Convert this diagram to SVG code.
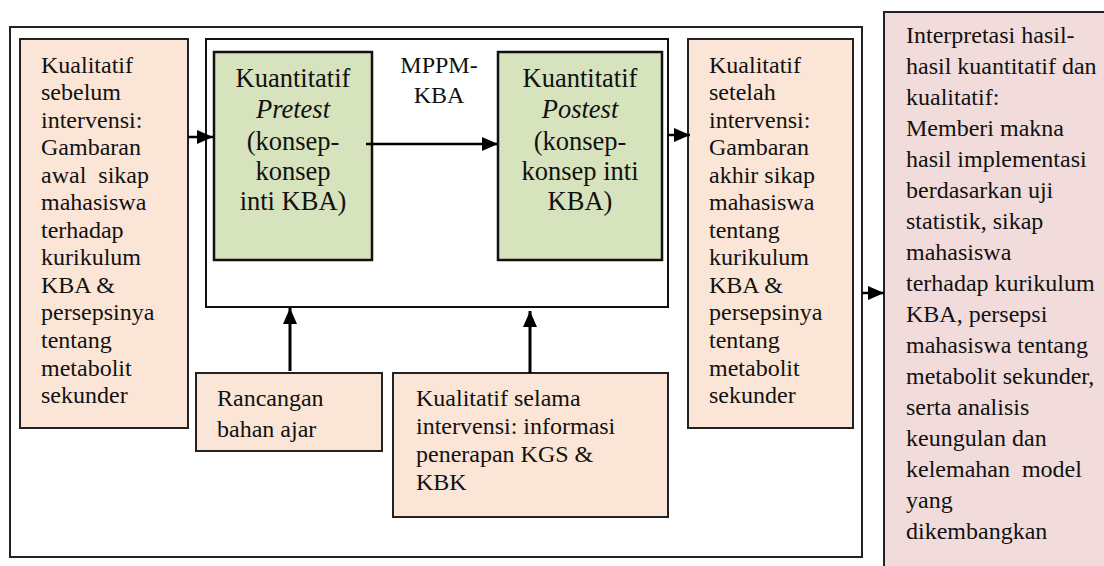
<svg xmlns="http://www.w3.org/2000/svg" width="1104" height="566" viewBox="0 0 1104 566">
<defs>
<style>
text{font-family:"Liberation Serif","Times New Roman",serif;fill:#111;font-size:24px}
.big{font-size:26.5px}
.mid{text-anchor:middle}
.org{fill:#FBE5D6;stroke:#222;stroke-width:2}
.grn{fill:#D6E3BC;stroke:#111;stroke-width:2.5}
.pnk{fill:#F2DCDB;stroke:#222;stroke-width:2}
.frm{fill:none;stroke:#222;stroke-width:2}
.wht{fill:#fff;stroke:#111;stroke-width:2}
.c{stroke:#000;stroke-width:2.5;fill:none}
.cv{stroke:#000;stroke-width:3;fill:none}
</style>
<marker id="ah" markerUnits="userSpaceOnUse" markerWidth="17" markerHeight="15" refX="16" refY="7" orient="auto">
<path d="M0,0 L16,7 L0,14 Z" fill="#000"/>
</marker>
</defs>
<rect width="1104" height="566" fill="#fff"/>
<g id="frame"><rect class="frm" x="10" y="27" width="852" height="530"/></g>
<g id="pink">
<rect class="pnk" x="884" y="12" width="240" height="580"/>
<text x="906" y="43">Interpretasi hasil-</text>
<text x="906" y="74">hasil kuantitatif dan</text>
<text x="906" y="105">kualitatif:</text>
<text x="906" y="136">Memberi makna</text>
<text x="906" y="167">hasil implementasi</text>
<text x="906" y="198">berdasarkan uji</text>
<text x="906" y="229">statistik, sikap</text>
<text x="906" y="260">mahasiswa</text>
<text x="906" y="291">terhadap kurikulum</text>
<text x="906" y="322">KBA, persepsi</text>
<text x="906" y="353">mahasiswa tentang</text>
<text x="906" y="384">metabolit sekunder,</text>
<text x="906" y="415">serta analisis</text>
<text x="906" y="446">keungulan dan</text>
<text x="906" y="477" xml:space="preserve">kelemahan  model</text>
<text x="906" y="508">yang</text>
<text x="906" y="539">dikembangkan</text>
</g>
<g id="kual-sebelum">
<rect class="org" x="20" y="39" width="168" height="389"/>
<text x="41" y="72.5">Kualitatif</text>
<text x="41" y="100">sebelum</text>
<text x="41" y="128">intervensi:</text>
<text x="41" y="155">Gambaran</text>
<text x="41" y="183" xml:space="preserve">awal  sikap</text>
<text x="41" y="210">mahasiswa</text>
<text x="41" y="238">terhadap</text>
<text x="41" y="265">kurikulum</text>
<text x="41" y="293">KBA &amp;</text>
<text x="41" y="320">persepsinya</text>
<text x="41" y="348">tentang</text>
<text x="41" y="376">metabolit</text>
<text x="41" y="403">sekunder</text>
</g>
<g id="mppm">
<rect class="wht" x="206" y="39" width="462" height="268"/>
<text class="mid" x="439" y="73">MPPM-</text>
<text class="mid" x="439" y="103">KBA</text>
</g>
<g id="pretest">
<rect class="grn" x="214" y="52" width="158" height="208"/>
<text class="big mid" x="293" y="87">Kuantitatif</text>
<text class="big mid" x="293" y="118" font-style="italic">Pretest</text>
<text class="big mid" x="293" y="150">(konsep-</text>
<text class="big mid" x="293" y="180">konsep</text>
<text class="big mid" x="293" y="210">inti KBA)</text>
</g>
<g id="postest">
<rect class="grn" x="498" y="52" width="164" height="208"/>
<text class="big mid" x="580" y="87">Kuantitatif</text>
<text class="big mid" x="580" y="118" font-style="italic">Postest</text>
<text class="big mid" x="580" y="150">(konsep-</text>
<text class="big mid" x="580" y="180">konsep inti</text>
<text class="big mid" x="580" y="210">KBA)</text>
</g>
<g id="kual-setelah">
<rect class="org" x="688" y="39" width="165" height="389"/>
<text x="709" y="72.5">Kualitatif</text>
<text x="709" y="100">setelah</text>
<text x="709" y="128">intervensi:</text>
<text x="709" y="155">Gambaran</text>
<text x="709" y="183">akhir sikap</text>
<text x="709" y="210">mahasiswa</text>
<text x="709" y="238">tentang</text>
<text x="709" y="265">kurikulum</text>
<text x="709" y="293">KBA &amp;</text>
<text x="709" y="320">persepsinya</text>
<text x="709" y="348">tentang</text>
<text x="709" y="376">metabolit</text>
<text x="709" y="403">sekunder</text>
</g>
<g id="rancangan">
<rect class="org" x="196" y="373" width="186" height="78"/>
<text x="217" y="406">Rancangan</text>
<text x="217" y="437">bahan ajar</text>
</g>
<g id="kual-selama">
<rect class="org" x="393" y="373" width="275" height="144"/>
<text x="416" y="406">Kualitatif selama</text>
<text x="416" y="434">intervensi: informasi</text>
<text x="416" y="462">penerapan KGS &amp;</text>
<text x="416" y="490">KBK</text>
</g>
<g id="connectors">
<line class="c" x1="188" y1="137" x2="213" y2="137" marker-end="url(#ah)"/>
<line class="c" x1="366" y1="144" x2="498" y2="144" marker-end="url(#ah)"/>
<line class="c" x1="668" y1="135" x2="690" y2="135" marker-end="url(#ah)"/>
<line class="c" x1="862" y1="293" x2="884" y2="293" marker-end="url(#ah)"/>
<line class="cv" x1="290" y1="371" x2="290" y2="308" marker-end="url(#ah)"/>
<line class="cv" x1="530" y1="373" x2="530" y2="311" marker-end="url(#ah)"/>
</g>
</svg>
